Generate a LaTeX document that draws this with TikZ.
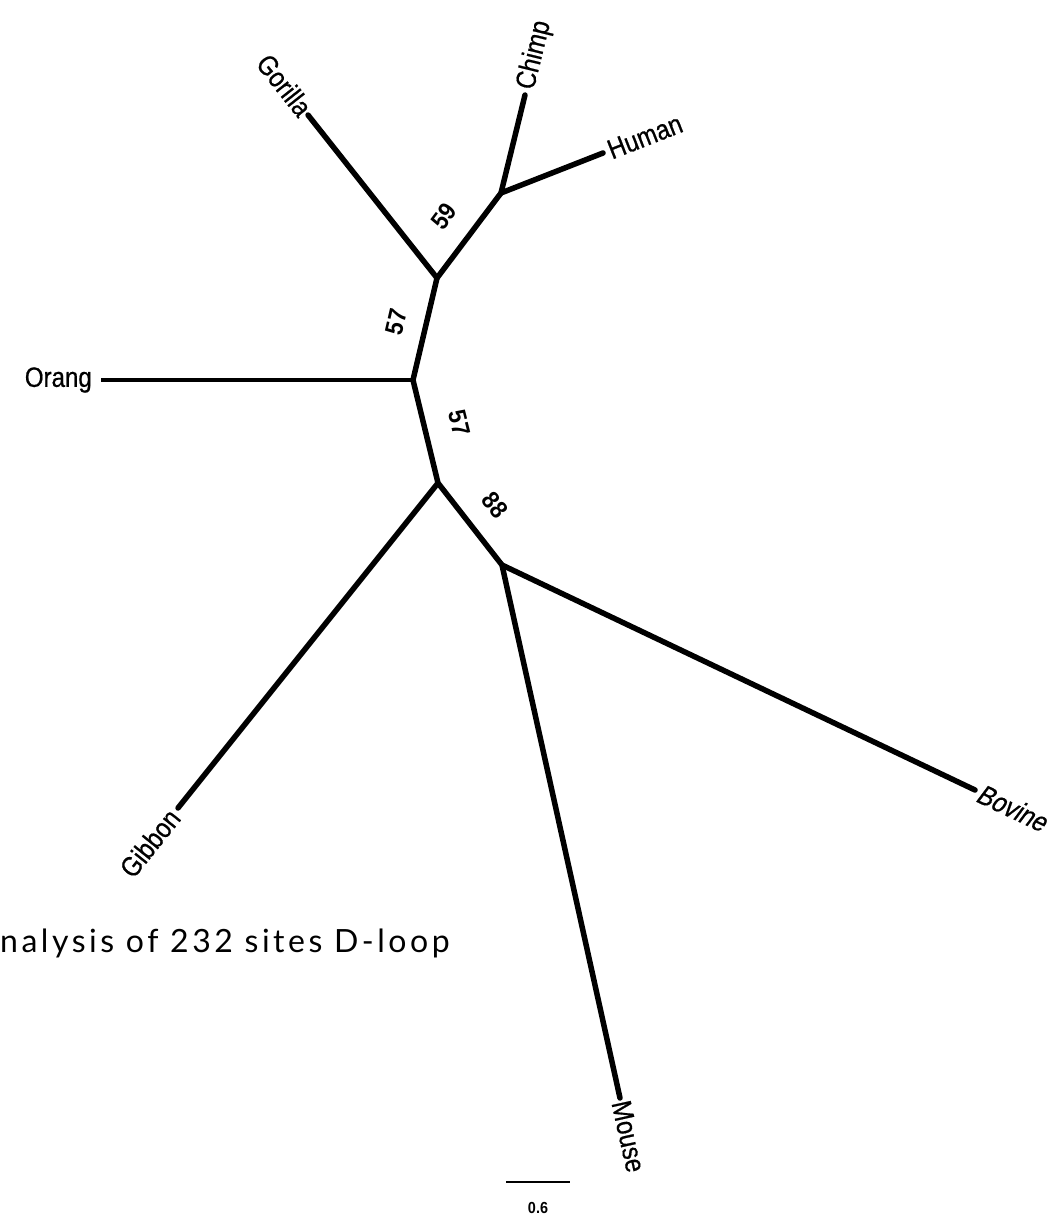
\documentclass[tikz,border=0pt]{standalone}
\usepackage{fontspec}
\setmainfont{Liberation Sans}
\newfontfamily\taxfont[FakeStretch=0.86,FakeBold=0.6]{Liberation Sans}
\newfontfamily\bootfont[FakeStretch=0.9]{Liberation Sans}
\newfontfamily\capfont[LetterSpace=11]{Lato}
\begin{document}
\begin{tikzpicture}[x=1pt,y=-1pt,
  branch/.style={line width=5.5pt, line cap=round, line join=round},
  taxon/.style={font=\taxfont\fontsize{28}{28}\selectfont, inner sep=6pt},
  boot/.style={font=\bootfont\bfseries\fontsize{25}{25}\selectfont, inner sep=0pt}]
\useasboundingbox (0,0) rectangle (1064,1219);

% internal nodes of the tree
\coordinate (nA) at (437,278);
\coordinate (nB) at (501,193);
\coordinate (nC) at (413,380);
\coordinate (nD) at (438,483);
\coordinate (nE) at (502,565);

% leaves
\coordinate (tGor) at (308,115);
\coordinate (tChi) at (525,95);
\coordinate (tHum) at (603,153);
\coordinate (tOra) at (101,380);
\coordinate (tGib) at (178,808);
\coordinate (tBov) at (975,790);
\coordinate (tMou) at (620,1098);

% leaf labels
\node[taxon, anchor=east, rotate=-51.6, inner sep=3pt] (lGor) at (tGor) {Gorilla};
\node[taxon, anchor=west, rotate=76.2]  (lChi) at (tChi) {Chimp};
\node[taxon, anchor=west, rotate=21.4]  (lHum) at (tHum) {Human};
\node[taxon, anchor=east, inner sep=9pt] (lOra) at (tOra) {Orang};
\node[taxon, anchor=east, rotate=51.3]  (lGib) at (tGib) {Gibbon};
\node[taxon, anchor=west, rotate=-25.4, xslant=0.2] (lBov) at (tBov) {Bovine};
\node[taxon, anchor=west, rotate=-77.5, inner sep=3pt] (lMou) at (tMou) {Mouse};

% branches
\draw[branch] (tGor) -- (nA) -- (nB) -- (tChi);
\draw[branch] (nB) -- (tHum);
\draw[branch] (nA) -- (nC) -- (nD) -- (nE) -- (tMou);
\draw[branch] (nE) -- (tBov);
\draw[branch] (nD) -- (tGib);
\draw[line width=4pt] (nC) -- (tOra);

% bootstrap values
\node[boot, rotate=53]  (b59) at (444,216) {59};
\node[boot, rotate=77]  (b57a) at (396,322) {57};
\node[boot, rotate=-76] (b57b) at (459,423) {57};
\node[boot, rotate=-52] (b88) at (495,505) {88};

% scale bar
\coordinate (sL) at (506,1182);
\coordinate (sR) at (570,1182);
\draw[line width=2.5pt] (sL) -- (sR);
\node[font=\bootfont\bfseries\fontsize{16}{16}\selectfont] (sLab) at (538,1208) {0.6};

% caption
\node[font=\capfont\fontsize{32}{32}\selectfont, anchor=west, inner sep=0pt] (cap) at (0,943) {nalysis of 232 sites D-loop};
\end{tikzpicture}
\end{document}
